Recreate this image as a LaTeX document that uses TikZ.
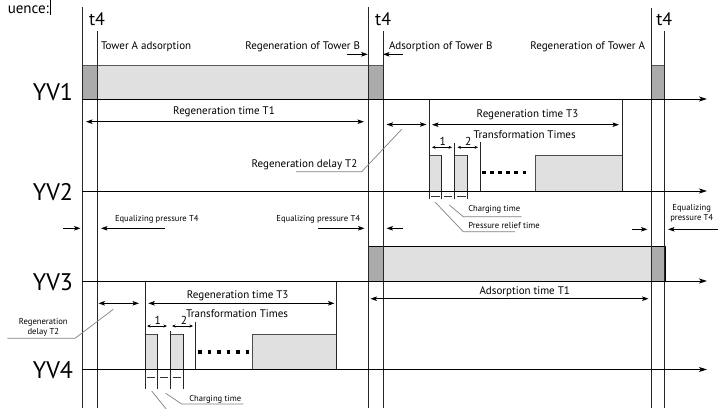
\documentclass[tikz,border=0pt]{standalone}
\usepackage{fontspec}
\setmainfont{PT Sans}
\usetikzlibrary{arrows.meta}
\begin{document}
\begin{tikzpicture}[x=1pt,y=-1pt,
  every node/.style={inner sep=0pt,outer sep=0pt,text=black},
  big/.style={font=\fontsize{24}{26}\selectfont},
  tfour/.style={font=\fontsize{18}{20}\selectfont},
  lab/.style={font=\fontsize{11}{13}\selectfont},
  num/.style={font=\fontsize{11.5}{13}\selectfont},
  small/.style={font=\fontsize{8.6}{10}\selectfont},
  axisline/.style={line width=0.9pt,-{Stealth[length=8pt,width=5pt,inset=2pt]}},
  tline/.style={line width=0.85pt,draw=black!85},
  dimarrow/.style={line width=0.75pt,{Stealth[length=6.5pt,width=4.5pt,inset=1.5pt]}-{Stealth[length=6.5pt,width=4.5pt,inset=1.5pt]}},
  onearrow/.style={line width=0.75pt,-{Stealth[length=6.5pt,width=4.5pt,inset=1.5pt]}},
  tinyarrow/.style={line width=0.6pt,{Stealth[length=3.5pt,width=3pt]}-{Stealth[length=3.5pt,width=3pt]}},
  marker/.style={line width=0.6pt,draw=black!80},
  leader/.style={line width=0.7pt,draw=black!50},
  pulse/.style={fill=black!12,draw=black!70,line width=0.8pt},
  lightg/.style={fill=black!12},
  darkg/.style={fill=black!33},
  dotline/.style={line width=3.5pt,draw=black}
]
\useasboundingbox (0,0) rectangle (718,408);
\clip (0,0) rectangle (718,408);

% ---- header text fragment
\node[font=\fontsize{15}{17}\selectfont,anchor=base east] (seq) at (49,13) {uence:};
\draw[line width=0.6pt] (50.5,0) -- (50.5,15);

% ---- YV1 band
\fill[lightg] (97,65) rectangle (368,99);
\fill[darkg] (82,65) rectangle (97,99);
\fill[darkg] (368,65) rectangle (383,99);
\fill[darkg] (651,65) rectangle (664.3,99);
\draw[line width=0.8pt,draw=black!65] (82,65) -- (383,65);
\draw[line width=0.8pt,draw=black!65] (651,65) -- (664.3,65);

% ---- YV3 band
\fill[lightg] (383,246) rectangle (651,281);
\fill[darkg] (368,246) rectangle (383,281);
\fill[darkg] (651,246) rectangle (665.7,281);
\draw[line width=1pt] (368,246) rectangle (665.7,281);

% ---- YV2 pulses
\filldraw[pulse] (429,155) rectangle (441.7,191);
\filldraw[pulse] (454.3,155) rectangle (467.7,191);
\filldraw[pulse] (535,155) rectangle (622,191);
\draw[tline] (429,99) -- (429,199);
\draw[tline] (441.7,155) -- (441.7,199);
\draw[tline] (454.3,143) -- (454.3,199);
\draw[tline] (467.7,155) -- (467.7,199);
\draw[tline] (480,141.5) -- (480,191);
\draw[tline] (622,99) -- (622,191);
\draw[dotline,dash pattern=on 3.5pt off 4.6pt] (482,172.7) -- (527,172.7);
\draw[marker] (431,196.7) -- (439.7,196.7);
\draw[marker] (444,196.7) -- (452.3,196.7);
\draw[marker] (456.5,196.7) -- (465.5,196.7);

% ---- YV4 pulses
\filldraw[pulse] (145,334.3) rectangle (157.3,369.5);
\filldraw[pulse] (170.7,334.3) rectangle (183.3,369.5);
\filldraw[pulse] (252.3,334.3) rectangle (336.7,369.5);
\draw[tline] (145,281) -- (145,389);
\draw[tline] (157.3,334.3) -- (157.3,389);
\draw[tline] (170.7,331) -- (170.7,389);
\draw[tline] (183.3,334.3) -- (183.3,389);
\draw[tline] (195.7,321.7) -- (195.7,369.5);
\draw[tline] (336.7,281) -- (336.7,369.5);
\draw[dotline,dash pattern=on 3.5pt off 6pt] (198,352) -- (250,352);
\draw[marker] (147,377.3) -- (155,377.3);
\draw[marker] (159.5,377.3) -- (168.3,377.3);
\draw[marker] (172.5,377.3) -- (181,377.3);

% ---- time lines t4
\draw[tline] (82,7) -- (82,408);
\draw[tline] (97,31) -- (97,408);
\draw[tline] (368,7) -- (368,408);
\draw[tline] (383,31) -- (383,408);
\draw[tline] (651,8) -- (651,408);
\draw[tline] (664.3,31) -- (664.3,408);
\node[tfour,anchor=base] (t4a) at (97,25) {t4};
\node[tfour,anchor=base] (t4b) at (383.2,25) {t4};
\node[tfour,anchor=base] (t4c) at (664.3,25) {t4};

% ---- axes
\coordinate (a1s) at (82,99);    \coordinate (a1e) at (707,99);
\coordinate (a2s) at (82,191);   \coordinate (a2e) at (707,191);
\coordinate (a3s) at (82,281);   \coordinate (a3e) at (707,281);
\coordinate (a4s) at (82,369.5); \coordinate (a4e) at (707,369.5);
\draw[axisline] (a1s) -- (a1e);
\draw[axisline] (a2s) -- (a2e);
\draw[axisline] (a3s) -- (a3e);
\draw[axisline] (a4s) -- (a4e);
\node[big,anchor=base east] (yv1) at (73,100.5) {YV1};
\node[big,anchor=base east] (yv2) at (73,200) {YV2};
\node[big,anchor=base east] (yv3) at (73,290) {YV3};
\node[big,anchor=base east] (yv4) at (73,378) {YV4};

% ---- top labels
\node[lab,anchor=base west] (tAads) at (101,49) {Tower A adsorption};
\node[lab,anchor=base east] (regB) at (360,49) {Regeneration of Tower B};
\node[lab,anchor=base west] (adsB) at (389,49) {Adsorption of Tower B};
\node[lab,anchor=base east] (regA) at (645,49) {Regeneration of Tower A};
\draw[onearrow] (346.7,54.3) -- (367.7,54.3);
\draw[onearrow] (402.7,54.3) -- (383,54.3);

% ---- YV1/YV2 region
\node[lab,anchor=base] (regT1) at (224,114) {Regeneration time T1};
\draw[dimarrow] (86,121.7) -- (364,121.7);
\draw[dimarrow] (386.5,124.5) -- (426.5,124.5);
\draw[dimarrow] (432,124.7) -- (619,124.7);
\node[lab,anchor=base] (regT3a) at (527.5,117) {Regeneration time T3};
\node[lab,anchor=base] (trA) at (524.7,138) {Transformation Times};
\node[num,anchor=base] (n1a) at (442.7,145) {1};
\node[num,anchor=base] (n2a) at (468.3,145) {2};
\draw[tinyarrow] (432,147.3) -- (452,147.3);
\draw[tinyarrow] (457.5,147.3) -- (478,147.3);
\node[lab,anchor=base] (delT2a) at (304.5,167) {Regeneration delay T2};
\draw[leader] (296,171.7) -- (361.7,171.7) -- (401.7,129.3);
\node[small,anchor=base west] (chgA) at (468.3,211.5) {Charging time};
\node[small,anchor=base west] (relA) at (468.3,228.3) {Pressure relief time};
\draw[leader] (449.3,205) -- (463.3,216.7) -- (521.7,216.7);
\draw[leader] (435,202) -- (463.3,231.7) -- (515,231.7);

% ---- equalizing
\node[small,anchor=base west] (eq1) at (115,221.7) {Equalizing pressure T4};
\node[small,anchor=base east] (eq2) at (360,221.7) {Equalizing pressure T4};
\node[small,anchor=base] (eq3a) at (691.7,210) {Equalizing};
\node[small,anchor=base] (eq3b) at (691.7,220) {pressure T4};
\draw[onearrow] (63,228.3) -- (80.5,228.3);
\draw[onearrow] (165,228.3) -- (101,228.3);
\draw[onearrow] (318,228.3) -- (364.5,228.3);
\draw[onearrow] (403,228.3) -- (386.5,228.3);
\draw[onearrow] (631.7,229.3) -- (647.5,229.3);
\draw[onearrow] (720,229.3) -- (668,229.3);

% ---- YV3/YV4 region
\node[lab,anchor=base] (adsT1) at (524.7,294) {Adsorption time T1};
\draw[dimarrow] (370.5,298.7) -- (648.5,298.7);
\draw[dimarrow] (98.5,303.3) -- (139,303.3);
\draw[dimarrow] (148.3,303.3) -- (334.5,303.3);
\node[lab,anchor=base] (regT3b) at (237.7,298.3) {Regeneration time T3};
\node[lab,anchor=base] (trB) at (237,317) {Transformation Times};
\node[num,anchor=base] (n1b) at (157.7,324.5) {1};
\node[num,anchor=base] (n2b) at (184,324.5) {2};
\draw[tinyarrow] (147,326) -- (167,326);
\draw[tinyarrow] (172,326) -- (193,326);
\node[small,anchor=base] (delT2b1) at (43.3,324) {Regeneration};
\node[small,anchor=base] (delT2b2) at (43.3,334) {delay T2};
\draw[leader] (7.3,338.3) -- (75,338.3) -- (113.3,309.3);
\node[small,anchor=base west] (chgB) at (189.3,401) {Charging time};
\draw[leader] (165.7,393.3) -- (181.7,404) -- (243.3,404);
\draw[leader] (151.7,391) -- (167,410);
\end{tikzpicture}
\end{document}
